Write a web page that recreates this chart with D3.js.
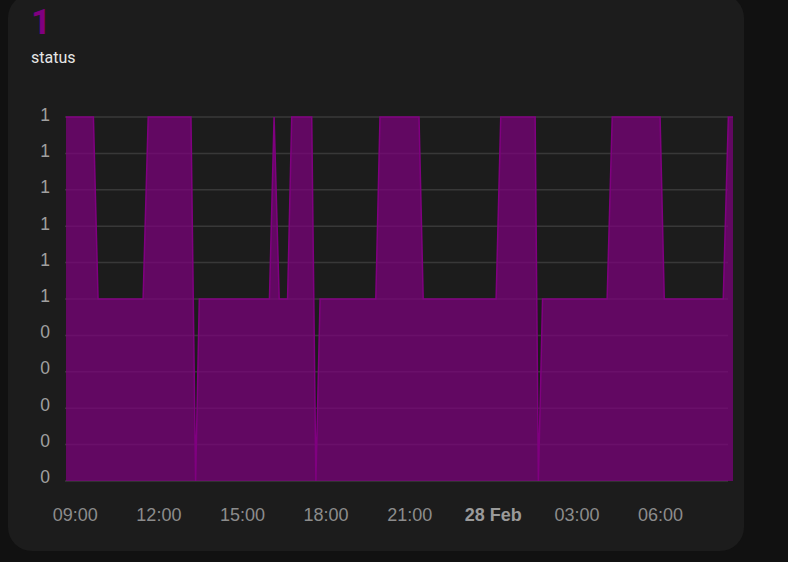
<!DOCTYPE html>
<html>
<head>
<meta charset="utf-8">
<script src="https://cdn.jsdelivr.net/npm/d3@7"></script>
<style>
  html, body { margin: 0; padding: 0; background: #111111; }
  svg { display: block; }
</style>
</head>
<body>
<svg id="chart" width="788" height="562"></svg>
<script>
// ---- data ----
const headerValue = "1";
const headerName = "status";
const times = [
  "2024-02-27T08:40", "2024-02-27T09:39", "2024-02-27T09:49", "2024-02-27T11:26",
  "2024-02-27T11:37", "2024-02-27T13:09", "2024-02-27T13:19", "2024-02-27T13:27",
  "2024-02-27T15:58", "2024-02-27T16:08", "2024-02-27T16:19", "2024-02-27T16:37",
  "2024-02-27T16:46", "2024-02-27T17:29", "2024-02-27T17:38", "2024-02-27T17:47",
  "2024-02-27T19:47", "2024-02-27T19:56", "2024-02-27T21:20", "2024-02-27T21:29",
  "2024-02-28T00:06", "2024-02-28T00:16", "2024-02-28T01:30", "2024-02-28T01:37",
  "2024-02-28T01:46", "2024-02-28T04:05", "2024-02-28T04:16", "2024-02-28T05:59",
  "2024-02-28T06:08", "2024-02-28T08:15", "2024-02-28T08:26", "2024-02-28T08:36"
];
const values = [
  1, 1, 0.5, 0.5,
  1, 1, 0, 0.5,
  0.5, 1, 0.5, 0.5,
  1, 1, 0, 0.5,
  0.5, 1, 1, 0.5,
  0.5, 1, 1, 0,
  0.5, 0.5, 1, 1,
  0.5, 0.5, 1, 1
];
const yTicks = [0, 0.1, 0.2, 0.3, 0.4, 0.5, 0.6, 0.7, 0.8, 0.9, 1];
const yTickLabels = ["0", "0", "0", "0", "0", "1", "1", "1", "1", "1", "1"];
const xTickTimes = ["2024-02-27T09:00", "2024-02-27T12:00", "2024-02-27T15:00", "2024-02-27T18:00",
                    "2024-02-27T21:00", "2024-02-28T00:00", "2024-02-28T03:00", "2024-02-28T06:00"];
const xTickLabels = ["09:00", "12:00", "15:00", "18:00", "21:00", "28 Feb", "03:00", "06:00"];
const domainStart = "2024-02-27T08:40";
const domainEnd = "2024-02-28T08:36";

// ---- drawing ----
const parse = d3.timeParse("%Y-%m-%dT%H:%M");
const data = times.map((t, i) => ({ t: parse(t), v: values[i] }));

const svg = d3.select("#chart");

// card
svg.append("rect")
  .attr("x", 8).attr("y", -6)
  .attr("width", 736).attr("height", 557)
  .attr("rx", 24).attr("ry", 24)
  .attr("fill", "#1c1c1c");

// header
svg.append("text")
  .attr("x", 31).attr("y", 34)
  .attr("font-family", "Roboto, 'Noto Sans', sans-serif")
  .attr("font-size", 35)
  .attr("font-weight", "bold")
  .attr("fill", "#800080")
  .text(headerValue);
svg.append("text")
  .attr("x", 31).attr("y", 63)
  .attr("font-family", "Roboto, 'Noto Sans', sans-serif")
  .attr("font-size", 16)
  .attr("fill", "#e6e6e6")
  .text(headerName);

const x = d3.scaleTime()
  .domain([parse(domainStart), parse(domainEnd)])
  .range([66, 733]);
const y = d3.scaleLinear().domain([0, 1]).range([481, 117]);

// grid
const grid = svg.append("g");
grid.selectAll("line").data(yTicks).join("line")
  .attr("x1", 65).attr("x2", 728)
  .attr("y1", d => y(d)).attr("y2", d => y(d))
  .attr("stroke", "#383838")
  .attr("stroke-width", 1.5);

// area + line
const area = d3.area()
  .x(d => x(d.t))
  .y0(y(0))
  .y1(d => y(d.v));
const line = d3.line()
  .x(d => x(d.t))
  .y(d => y(d.v));

svg.append("path")
  .datum(data)
  .attr("d", area)
  .attr("fill", "#800080")
  .attr("fill-opacity", 0.7);
svg.append("path")
  .datum(data)
  .attr("d", line)
  .attr("fill", "none")
  .attr("stroke", "#800080")
  .attr("stroke-width", 1.5);

// y axis labels
svg.append("g").selectAll("text").data(yTicks).join("text")
  .attr("x", 50)
  .attr("y", d => y(d) + 4 - (1 - d) * 2)
  .attr("text-anchor", "end")
  .attr("font-family", "'Liberation Sans', Arial, sans-serif")
  .attr("font-size", 17.5)
  .attr("fill", "#a0a0a0")
  .text((d, i) => yTickLabels[i]);

// x axis labels
svg.append("g").selectAll("text").data(xTickTimes).join("text")
  .attr("x", d => x(parse(d)))
  .attr("y", 521)
  .attr("text-anchor", "middle")
  .attr("font-family", "'Liberation Sans', Arial, sans-serif")
  .attr("font-size", 18)
  .attr("font-weight", (d, i) => xTickLabels[i] === "28 Feb" ? "bold" : "normal")
  .attr("fill", (d, i) => xTickLabels[i] === "28 Feb" ? "#9a9a9a" : "#8c8c8c")
  .text((d, i) => xTickLabels[i]);
</script>
</body>
</html>
